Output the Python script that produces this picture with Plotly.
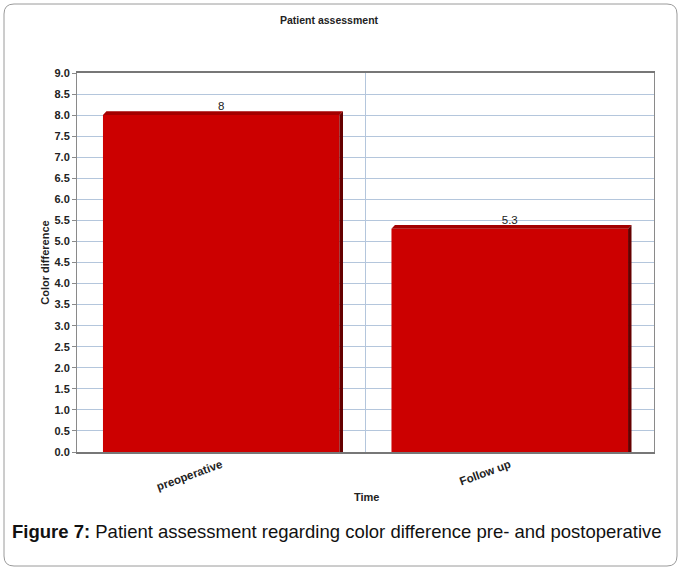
import plotly.graph_objects as go

categories = ["preoperative", "Follow up"]
values = [8, 5.3]
value_labels = ["8", "5.3"]

BAR_W = 0.82
DX, DY = 0.012, 0.09
NARROW = "Liberation Sans Narrow, Arial Narrow, Liberation Sans"

fig = go.Figure()
fig.add_trace(go.Bar(
    x=categories, y=values, width=BAR_W,
    marker=dict(color="#cc0000", line=dict(width=0)),
    text=value_labels, textposition="outside", cliponaxis=False,
    textfont=dict(family=NARROW, size=11.5, color="#222"),
))

shapes = []
for i, v in enumerate(values):
    l, r = i - BAR_W / 2, i + BAR_W / 2
    shapes.append(dict(type="path", xref="x", yref="y", layer="above",
                       path=f"M {l},{v} L {l+DX},{v+DY} L {r+DX},{v+DY} L {r},{v} Z",
                       fillcolor="#a30000", line=dict(width=0)))
    shapes.append(dict(type="path", xref="x", yref="y", layer="above",
                       path=f"M {r},0 L {r},{v} L {r+DX},{v+DY} L {r+DX},0 Z",
                       fillcolor="#650000", line=dict(width=0)))

# outer rounded frame (paper coords)
def px2x(px):
    return (px - 77) / 577
def py2y(py):
    return (452 - py) / 379
x0, x1, y0, y1 = px2x(4), px2x(677), py2y(566), py2y(4)
rx, ry = 10 / 577, 10 / 379
shapes.append(dict(type="path", xref="paper", yref="paper", layer="below",
                   path=(f"M {x0+rx},{y1} L {x1-rx},{y1} Q {x1},{y1} {x1},{y1-ry} "
                         f"L {x1},{y0+ry} Q {x1},{y0} {x1-rx},{y0} L {x0+rx},{y0} "
                         f"Q {x0},{y0} {x0},{y0+ry} L {x0},{y1-ry} Q {x0},{y1} {x0+rx},{y1} Z"),
                   line=dict(color="#9a9a9a", width=1)))

fig.update_layout(
    width=678, height=567,
    margin=dict(l=77, r=24, t=73, b=115),
    paper_bgcolor="white", plot_bgcolor="white",
    showlegend=False,
    shapes=shapes,
    font=dict(family="Liberation Sans", color="#222"),
    annotations=[
        dict(text="<b>Patient assessment</b>", xref="paper", yref="paper",
             x=px2x(329), y=py2y(20), yanchor="middle", showarrow=False,
             font=dict(size=10.5, color="#222", family=NARROW)),
        dict(text="<b>Time</b>", xref="paper", yref="paper",
             x=px2x(366), y=py2y(497), yanchor="middle", showarrow=False,
             font=dict(size=11, color="#222", family=NARROW)),
        dict(text="<b>Figure 7:</b> Patient assessment regarding color difference pre- and postoperative",
             xref="paper", yref="paper", x=px2x(10), y=py2y(531), xanchor="left",
             yanchor="middle", showarrow=False, font=dict(size=18.5, color="#111")),
    ],
)
fig.update_yaxes(
    range=[0, 9], dtick=0.5, tickformat=".1f",
    showgrid=True, gridcolor="#b4c6dc", gridwidth=1,
    showline=True, linecolor="#8a8a8a", mirror=True,
    ticks="outside", ticklen=4, tickcolor="#8a8a8a",
    tickfont=dict(size=11, color="#222", family=NARROW),
    tickprefix="<b>", ticksuffix="</b>",
    title=dict(text="<b>Color difference</b>", font=dict(size=11, family=NARROW), standoff=2),
    zeroline=False,
)
fig.update_xaxes(
    tickangle=-20, tickson="boundaries",
    showgrid=True, gridcolor="#b4c6dc", gridwidth=1,
    showline=True, linecolor="#777", linewidth=1.5, mirror=True,
    ticks="", tickfont=dict(size=11.5, color="#222", family=NARROW),
    tickprefix="<b>", ticksuffix="</b>",
)
fig.write_html("out.html", config={"displayModeBar": False},
               post_script="document.body.style.margin='0';")
